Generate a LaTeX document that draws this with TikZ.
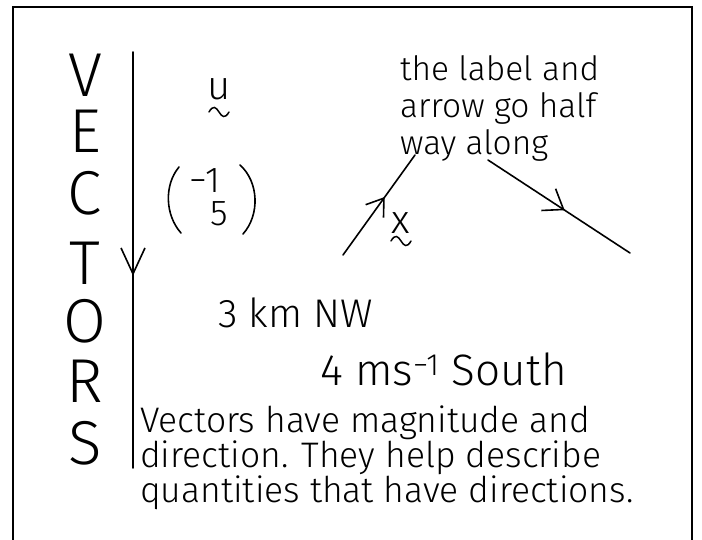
\documentclass[tikz,border=0pt]{standalone}
\usepackage{fontspec}
\setmainfont{Fira Sans}[UprightFont=* Light]
\usetikzlibrary{arrows.meta,decorations.markings}
\tikzset{
  frame/.style={line width=2pt},
  pen/.style={line width=1.6pt, line cap=round},
  midbarb/.style n args={3}{postaction={decorate,decoration={markings,
      mark=at position #1 with {\arrow[line width=1.6pt]{Straight Barb[length=#2,width=#3]}}}}},
  big/.style={font=\fontsize{62}{62}\selectfont, inner sep=0pt},
  hand/.style={font=\fontsize{33.5}{37}\selectfont, inner sep=0pt, align=left},
  mid/.style={font=\fontsize{40}{40}\selectfont, inner sep=0pt},
  midb/.style={font=\fontsize{44}{44}\selectfont, inner sep=0pt},
  para/.style={font=\fontsize{35.5}{31}\selectfont, inner sep=0pt, align=left},
  sym/.style={font=\fontsize{40}{40}\selectfont, inner sep=0pt},
  entry/.style={font=\fontsize{36}{36}\selectfont, inner sep=0pt},
  squiggle/.pic={\draw[line width=1.5pt, line cap=round]
      (-10,0) .. controls (-6,-7) and (-3,-5) .. (0,0)
      .. controls (3,5) and (6,7) .. (10,0);},
}
\begin{document}
\begin{tikzpicture}[x=1pt,y=-1pt]
\useasboundingbox (0,0) rectangle (702,540);
% frame (open at the bottom)
\draw[frame] (13,560) -- (13,7) -- (692,7) -- (692,560);

% big vertical title
\foreach \l/\y [count=\i] in {V/75,E/131,C/193,T/263,O/321,R/381,S/443}
  \node[big] (L\i) at (85,\y) {\l};

% long vertical vector
\coordinate (vtop) at (133,52);
\coordinate (vbot) at (133,468);
\draw[pen, midbarb={0.538}{26pt}{24pt}] (vtop) -- (vbot);

% u with tilde
\node[sym, anchor=base] (u) at (219,100) {u};
\pic at (219,112) {squiggle};

% column vector
\node[entry, anchor=base] (c1) at (205,193) {−1};
\node[entry, anchor=base] (c2) at (219,226) {5};
\draw[pen] (179,167) .. controls (164,185) and (165,215) .. (181,233);
\draw[pen] (240,165) .. controls (259,182) and (260,215) .. (243,234);

% explanation text
\node[hand, anchor=north west] (note) at (400,55)
  {the label and\\arrow go half\\way along};

% vector x
\coordinate (xa) at (343,255);
\coordinate (xb) at (415,155);
\draw[pen, midbarb={0.58}{16pt}{22pt}] (xa) -- (xb);
\node[sym, anchor=base] (x) at (401,234) {x};
\pic at (401,241) {squiggle};

% second vector
\coordinate (ya) at (488,160);
\coordinate (yb) at (630,253);
\draw[pen, midbarb={0.54}{18pt}{26pt}] (ya) -- (yb);

% examples
\node[mid, anchor=base west] (nw) at (218,327) {3 km NW};
\node[midb, anchor=base west] (south) at (320,385) {4 ms\textsuperscript{−1} South};

% paragraph
\node[para, anchor=north west] (par) at (140,406)
  {Vectors have magnitude and\\direction. They help describe\\quantities that have directions.};
\end{tikzpicture}
\end{document}
